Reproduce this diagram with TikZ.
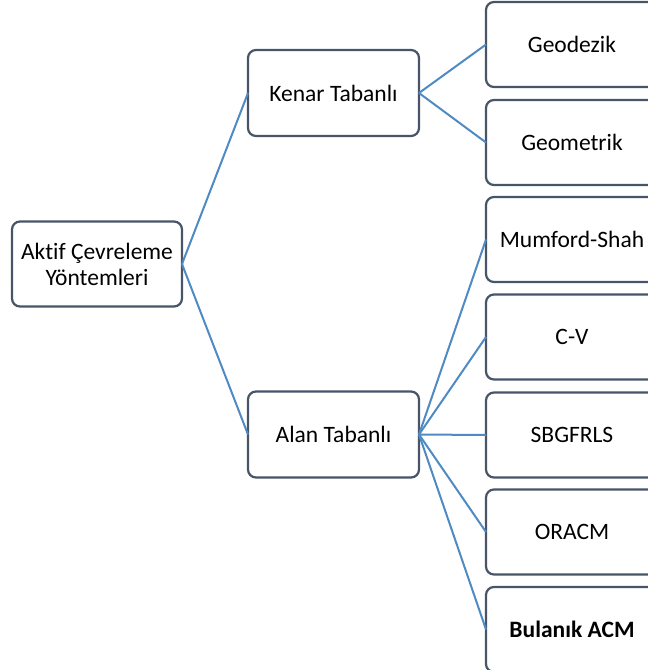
\documentclass[tikz,border=0pt]{standalone}
\usepackage{fontspec}
\setmainfont{Carlito}[Ligatures=NoCommon]
\definecolor{boxline}{RGB}{72,84,104}
\definecolor{conn}{RGB}{80,138,194}
\begin{document}
\begin{tikzpicture}[x=1pt,y=-1pt,
  box/.style={draw=boxline, line width=2.2pt, rounded corners=8pt, fill=white,
    inner sep=0pt, outer sep=0pt, align=center, font=\fontsize{23.5}{26}\selectfont},
  midbox/.style={box, minimum width=171pt, minimum height=86pt},
  leafbox/.style={box, minimum width=172pt, minimum height=85pt},
  link/.style={draw=conn, line width=2pt}]
\useasboundingbox (0,0) rectangle (648,670);
\clip (0,0) rectangle (648,670);
\node[box, minimum width=170pt, minimum height=85pt] (root) at (97,264) {Akt\kern0pt i\kern0pt f Çevreleme\\Yöntemleri};
\node[midbox] (kenar) at (333.5,93) {Kenar Tabanlı};
\node[midbox] (alan) at (333.5,434.5) {Alan Tabanlı};
\node[leafbox] (geod) at (572,44.5) {Geodezik};
\node[leafbox] (geom) at (572,142.5) {Geometrik};
\node[leafbox] (mum) at (572,239.5) {Mumford-Shah};
\node[leafbox] (cv) at (572,337) {C-V};
\node[leafbox] (sbg) at (572,435) {SBGFRLS};
\node[leafbox] (ora) at (572,532) {ORACM};
\node[leafbox] (bul) at (572,629.5) {\bfseries Bulanık ACM};
\draw[link] (root.east) -- (kenar.west);
\draw[link] (root.east) -- (alan.west);
\draw[link] (kenar.east) -- (geod.west);
\draw[link] (kenar.east) -- (geom.west);
\foreach \n in {mum,cv,sbg,ora,bul} \draw[link] (alan.east) -- (\n.west);
\end{tikzpicture}
\end{document}
